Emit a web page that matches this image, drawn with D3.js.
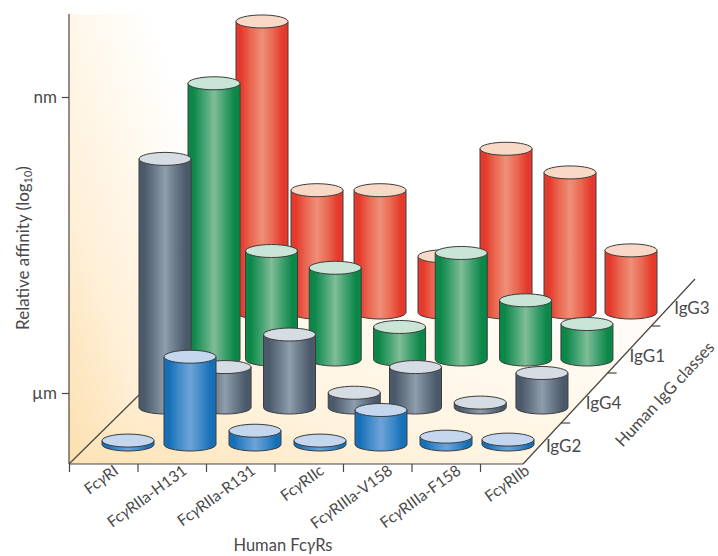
<!DOCTYPE html>
<html>
<head>
<meta charset="utf-8">
<script src="https://cdn.jsdelivr.net/npm/d3@7"></script>
<style>
    body {margin: 0; background: #fff;}
    svg {display: block;}
    text {font-family: Lato, "Open Sans", sans-serif; fill: #4a4a4a;}
</style>
</head>
<body>
<div id="chart"></div>
<script>
const receptors = ['I', 'IIa-H131', 'IIa-R131', 'IIc', 'IIIa-V158', 'IIIa-F158', 'IIb'];
const classes = ['IgG2', 'IgG4', 'IgG1', 'IgG3'];

// relative affinity in log10 units, 6 = um and 9 = nm
const igG2 = [5.32, 6.17, 5.42, 5.32, 5.63, 5.36, 5.33];
const igG4 = [7.80, 5.69, 6.02, 5.43, 5.69, 5.33, 5.63];
const igG1 = [8.08, 6.38, 6.21, 5.61, 6.36, 5.88, 5.64];
const igG3 = [8.23, 6.52, 6.52, 5.85, 6.94, 6.70, 5.91];

const affinityTicks = [6, 9];
const affinityLabels = {6: 'µm', 9: 'nm'};
const seriesByClass = {IgG2: igG2, IgG4: igG4, IgG1: igG1, IgG3: igG3};

const colors = {
    IgG2: {edge: '#1670b8', inner: '#3f8ac8', mid: '#6ea3d8', top: '#c4d7ef'},
    IgG4: {edge: '#4a5a6a', inner: '#677787', mid: '#8f9dac', top: '#d5dce3'},
    IgG1: {edge: '#0b8748', inner: '#3c9f6c', mid: '#80bd98', top: '#c8e5d6'},
    IgG3: {edge: '#e53a2b', inner: '#ea6650', mid: '#ef8f78', top: '#f8d9c8'}
};

const width = 718, height = 556;
const rx = 26, ry = 6.5;
const floorY = 464;

let svg = d3.select('#chart').append('svg')
    .attr('width', width)
    .attr('height', height);

let defs = svg.append('defs');

classes.forEach(name => {
    let c = colors[name];
    let grad = defs.append('linearGradient').attr('id', 'side' + name);
    grad.append('stop').attr('offset', '0%').attr('stop-color', c.edge);
    grad.append('stop').attr('offset', '10%').attr('stop-color', c.edge);
    grad.append('stop').attr('offset', '28%').attr('stop-color', c.inner);
    grad.append('stop').attr('offset', '50%').attr('stop-color', c.mid);
    grad.append('stop').attr('offset', '72%').attr('stop-color', c.inner);
    grad.append('stop').attr('offset', '90%').attr('stop-color', c.edge);
    grad.append('stop').attr('offset', '100%').attr('stop-color', c.edge);
});

let wallGrad = defs.append('linearGradient').attr('id', 'wall')
    .attr('x1', 0).attr('y1', 1).attr('x2', 0.75).attr('y2', 0.25);
wallGrad.append('stop').attr('offset', '0%').attr('stop-color', '#fcdfae');
wallGrad.append('stop').attr('offset', '40%').attr('stop-color', '#fff0d8');
wallGrad.append('stop').attr('offset', '100%').attr('stop-color', '#ffffff');

let floorGrad = defs.append('linearGradient').attr('id', 'floor')
    .attr('x1', 0).attr('y1', 1).attr('x2', 1).attr('y2', 0.2);
floorGrad.append('stop').attr('offset', '0%').attr('stop-color', '#fde2b4');
floorGrad.append('stop').attr('offset', '40%').attr('stop-color', '#fff3de');
floorGrad.append('stop').attr('offset', '100%').attr('stop-color', '#fffcf7');

// height axis, the bars grow from the floor value
const y = d3.scaleLinear().domain([6, 9]).range([393, 97]);
const floorValue = y.invert(floorY);
const barHeight = v => y(floorValue) - y(v);

// each class row sits further back along the floor diagonal
const depth = d3.scaleOrdinal().domain(classes).range([0, 37, 86, 134]);
const rowBase = d3.scaleOrdinal().domain(classes).range([444.5, 407.5, 359.5, 312.5]);

// receptor spacing is a bit uneven and narrows towards the back row
const frontX = d3.scaleOrdinal().domain(receptors).range([128, 190, 255, 320, 381, 446, 508]);
const backX = d3.scaleOrdinal().domain(receptors).range([262, 317, 380, 444, 506, 570, 631]);

function barX(name, receptor) {
    return d3.interpolateNumber(frontX(receptor), backX(receptor))(depth(name) / 134);
}

// wall and floor
svg.append('path')
    .attr('d', d3.line()([[69, 14], [230, 14], [215, 318], [69, 464]]) + 'Z')
    .attr('fill', 'url(#wall)');
svg.append('path')
    .attr('d', d3.line()([[69, 464], [523, 464], [660, 318], [215, 318]]) + 'Z')
    .attr('fill', 'url(#floor)');

// axes
let xAxisScale = d3.scalePoint().domain(receptors).range([69, 480]);
let xAxis = svg.append('g')
    .attr('transform', 'translate(0,' + floorY + ')')
    .call(d3.axisBottom(xAxisScale).tickSize(8).tickSizeOuter(0));
xAxis.select('.domain').attr('d', 'M69,0H523').attr('stroke', '#4a4540').attr('stroke-width', 1.2);
xAxis.selectAll('.tick line').attr('stroke', '#4a4540').attr('stroke-width', 1.2);
xAxis.selectAll('.tick text')
    .attr('text-anchor', 'end')
    .attr('font-size', 15.5)
    .attr('dy', 0).attr('y', 0)
    .attr('transform', 'translate(50,9) rotate(-36)')
    .html(d => 'Fc<tspan font-style="italic">γ</tspan>R' + d);

let yAxis = svg.append('g')
    .attr('transform', 'translate(69,0)')
    .call(d3.axisLeft(y).tickValues(affinityTicks).tickSize(7).tickFormat(d => affinityLabels[d]));
yAxis.select('.domain').attr('d', 'M0,14V464').attr('stroke', '#4a4540').attr('stroke-width', 1.2);
yAxis.selectAll('.tick line').attr('stroke', '#4a4540').attr('stroke-width', 1.2);
yAxis.selectAll('.tick text').attr('font-size', 17).attr('x', -12);

svg.append('line')
    .attr('x1', 69).attr('y1', 464).attr('x2', 139).attr('y2', 395)
    .attr('stroke', '#4a4540').attr('stroke-width', 1.2);

// bars, back row first so the front ones overlap
classes.slice().reverse().forEach(name => {
    let base = rowBase(name);
    let g = svg.append('g').attr('class', 'row-' + name);
    let bars = g.selectAll('g')
        .data(seriesByClass[name].map((v, i) => ({receptor: receptors[i], value: v})))
        .enter().append('g');

    bars.append('path')
        .attr('d', d => {
            let cx = barX(name, d.receptor), top = base - barHeight(d.value);
            return 'M' + (cx - rx) + ',' + top + 'V' + base
                + 'A' + rx + ',' + ry + ' 0 0 0 ' + (cx + rx) + ',' + base
                + 'V' + top + 'Z';
        })
        .attr('fill', 'url(#side' + name + ')')
        .attr('stroke', '#3c3c3c')
        .attr('stroke-width', 1);

    bars.append('ellipse')
        .attr('cx', d => barX(name, d.receptor))
        .attr('cy', d => base - barHeight(d.value))
        .attr('rx', rx).attr('ry', ry)
        .attr('fill', colors[name].top)
        .attr('stroke', '#3c3c3c')
        .attr('stroke-width', 1);
});

// IgG class axis along the right floor edge
const edgeX = d3.scaleLinear().domain([464, 279]).range([523, 695]);
const classTickY = d3.scaleOrdinal().domain(classes.slice(0, 3)).range([423, 373, 326]);
const classLabelY = d3.scaleOrdinal().domain(classes).range([448, 405, 358, 310]);

svg.append('line')
    .attr('x1', edgeX(464)).attr('y1', 464).attr('x2', edgeX(279)).attr('y2', 279)
    .attr('stroke', '#4a4540').attr('stroke-width', 1.2);

svg.selectAll('.classTick').data(classes.slice(0, 3)).enter().append('line')
    .attr('class', 'classTick')
    .attr('x1', d => edgeX(classTickY(d)))
    .attr('x2', d => edgeX(classTickY(d)) + 9)
    .attr('y1', d => classTickY(d))
    .attr('y2', d => classTickY(d))
    .attr('stroke', '#4a4540').attr('stroke-width', 1.2);

svg.selectAll('.classLabel').data(classes).enter().append('text')
    .attr('class', 'classLabel')
    .attr('x', d => edgeX(classLabelY(d)) + 8)
    .attr('y', d => classLabelY(d))
    .attr('dominant-baseline', 'middle')
    .attr('font-size', 17)
    .text(d => d);

// titles
svg.append('text')
    .attr('transform', 'translate(669,398) rotate(-47)')
    .attr('text-anchor', 'middle')
    .attr('font-size', 16.5)
    .text('Human IgG classes');

svg.append('text')
    .attr('x', 283).attr('y', 551)
    .attr('text-anchor', 'middle')
    .attr('font-size', 16.5)
    .html('Human Fc<tspan font-style="italic">γ</tspan>Rs');

svg.append('text')
    .attr('transform', 'translate(29,248) rotate(-90)')
    .attr('text-anchor', 'middle')
    .attr('font-size', 17)
    .html('Relative affinity (log<tspan font-size="11" dy="3">10</tspan><tspan dy="-3">)</tspan>');
</script>
</body>
</html>
